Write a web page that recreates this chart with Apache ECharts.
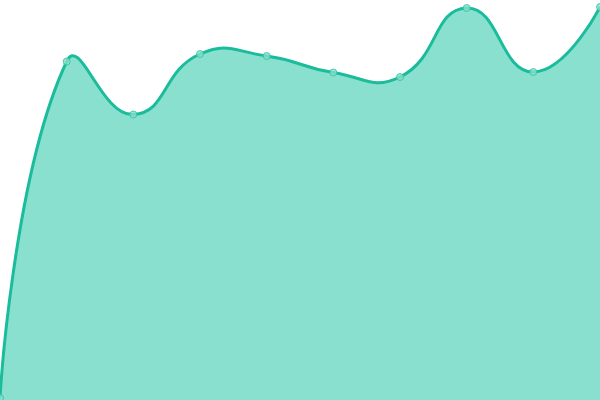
<!DOCTYPE html>
<html>
<head>
<meta charset="utf-8">
<script src="https://cdn.jsdelivr.net/npm/echarts@6/dist/echarts.min.js"></script>
<style>html,body{margin:0;padding:0;background:#fff}#c{width:600px;height:400px}</style>
</head>
<body>
<div id="c"></div>
<script>
const categories = ['1','2','3','4','5','6','7','8','9','10'];
const values = [2, 338.5, 285.5, 346, 344, 327.5, 323, 392, 328, 393];

const SMOOTH = 0.5;

function controlPoints(pts) {
  let minX = Infinity, minY = Infinity, maxX = -Infinity, maxY = -Infinity;
  pts.forEach(p => { minX = Math.min(minX, p[0]); minY = Math.min(minY, p[1]); maxX = Math.max(maxX, p[0]); maxY = Math.max(maxY, p[1]); });
  const cps = [];
  for (let i = 0; i < pts.length; i++) {
    const p = pts[i];
    if (i === 0 || i === pts.length - 1) { cps.push([p[0], p[1]]); continue; }
    const a = pts[i - 1], b = pts[i + 1];
    const vx = (b[0] - a[0]) * SMOOTH, vy = (b[1] - a[1]) * SMOOTH;
    let d0 = Math.hypot(p[0] - a[0], p[1] - a[1]);
    let d1 = Math.hypot(p[0] - b[0], p[1] - b[1]);
    const s = d0 + d1;
    if (s) { d0 /= s; d1 /= s; }
    const clamp = q => [Math.min(Math.max(q[0], minX), maxX), Math.min(Math.max(q[1], minY), maxY)];
    cps.push(clamp([p[0] - vx * d0, p[1] - vy * d0]));
    cps.push(clamp([p[0] + vx * d1, p[1] + vy * d1]));
  }
  return cps;
}

function curvePath(pts) {
  const cps = controlPoints(pts);
  let d = 'M' + pts[0][0] + ' ' + pts[0][1];
  for (let i = 0; i < pts.length - 1; i++) {
    const c1 = cps[2 * i], c2 = cps[2 * i + 1], e = pts[i + 1];
    d += ' C' + c1[0] + ' ' + c1[1] + ' ' + c2[0] + ' ' + c2[1] + ' ' + e[0] + ' ' + e[1];
  }
  return d;
}

const chart = echarts.init(document.getElementById('c'), null, {renderer: 'canvas'});
chart.setOption({
  animation: false,
  grid: {left: 0, right: 0, top: 0, bottom: 0},
  xAxis: {type: 'category', data: categories, boundaryGap: false, show: false},
  yAxis: {type: 'value', min: 0, max: 400, show: false},
  series: [{
    type: 'custom',
    data: values.map((v, i) => [i, v]),
    encode: {x: 0, y: 1},
    silent: true,
    renderItem: function (params, api) {
      if (params.dataIndex !== 0) return null;
      const pts = values.map((v, i) => api.coord([i, v]));
      const line = curvePath(pts);
      const base0 = api.coord([0, 0]), base1 = api.coord([values.length - 1, 0]);
      const area = line + ' L' + base1[0] + ' ' + base1[1] + ' L' + base0[0] + ' ' + base0[1] + ' Z';
      return {
        type: 'group',
        children: [
          {type: 'path', shape: {pathData: area}, style: {fill: '#89e0cf', stroke: null}},
          {type: 'path', shape: {pathData: line}, style: {fill: null, stroke: '#1abc9c', lineWidth: 3}}
        ]
      };
    }
  }, {
    type: 'scatter',
    data: values.map((v, i) => [i, v]),
    symbol: 'circle',
    symbolSize: 7,
    silent: true,
    itemStyle: {color: '#88dfcc', borderColor: '#2fc2a2', borderWidth: 1}
  }]
});
</script>
</body>
</html>
